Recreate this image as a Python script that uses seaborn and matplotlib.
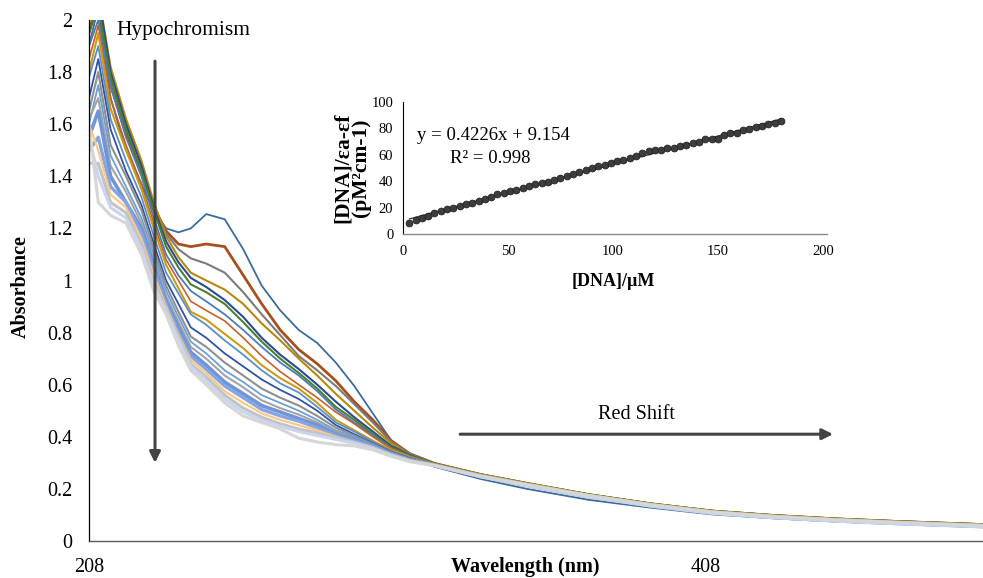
import numpy as np
import pandas as pd
import matplotlib
matplotlib.use("Agg")
import matplotlib.pyplot as plt
from matplotlib.ticker import FuncFormatter
import seaborn as sns

# ---------------- data ----------------
wavelength_nm = [208, 211, 215, 220, 225, 229, 233, 237, 241, 246, 252, 258, 264, 270, 276,
                 282, 288, 294, 300, 306, 312, 320, 335, 350, 370, 390, 410, 430, 450, 470, 498]

abs_s01 = [1.90, 2.05, 1.70, 1.50, 1.37, 1.265, 1.20, 1.185, 1.20, 1.255, 1.235, 1.12, 0.98, 0.885, 0.81,
           0.76, 0.685, 0.595, 0.49, 0.385, 0.335, 0.285, 0.238, 0.200, 0.158, 0.128, 0.102, 0.087, 0.075, 0.066, 0.053]
abs_s02 = [1.95, 2.10, 1.75, 1.56, 1.42, 1.28, 1.19, 1.14, 1.13, 1.14, 1.13, 1.02, 0.91, 0.81, 0.735,
           0.68, 0.615, 0.535, 0.465, 0.385, 0.335, 0.298, 0.255, 0.221, 0.178, 0.143, 0.115, 0.098, 0.085, 0.075, 0.063]
abs_s03 = [2.05, 2.10, 1.78, 1.60, 1.45, 1.29, 1.18, 1.12, 1.085, 1.065, 1.03, 0.955, 0.87, 0.79, 0.71,
           0.655, 0.595, 0.525, 0.455, 0.38, 0.335, 0.298, 0.256, 0.222, 0.179, 0.144, 0.116, 0.099, 0.086, 0.076, 0.064]
abs_s04 = [2.10, 2.10, 1.82, 1.62, 1.46, 1.30, 1.17, 1.09, 1.03, 1.00, 0.965, 0.91, 0.835, 0.77, 0.70,
           0.635, 0.565, 0.50, 0.435, 0.375, 0.33, 0.297, 0.255, 0.221, 0.178, 0.143, 0.115, 0.098, 0.085, 0.075, 0.063]
abs_s05 = [2.00, 2.10, 1.80, 1.60, 1.44, 1.28, 1.15, 1.07, 1.01, 0.975, 0.925, 0.86, 0.78, 0.715, 0.66,
           0.60, 0.535, 0.475, 0.42, 0.365, 0.33, 0.296, 0.253, 0.219, 0.176, 0.141, 0.113, 0.096, 0.083, 0.073, 0.061]
abs_s06 = [1.95, 2.05, 1.78, 1.58, 1.42, 1.27, 1.13, 1.05, 0.985, 0.955, 0.91, 0.84, 0.765, 0.70, 0.645,
           0.585, 0.515, 0.465, 0.41, 0.36, 0.328, 0.297, 0.256, 0.222, 0.179, 0.144, 0.116, 0.099, 0.086, 0.076, 0.064]
abs_s07 = [1.90, 2.00, 1.75, 1.55, 1.40, 1.24, 1.10, 1.02, 0.96, 0.92, 0.87, 0.81, 0.745, 0.685, 0.635,
           0.575, 0.505, 0.455, 0.405, 0.355, 0.325, 0.295, 0.252, 0.218, 0.175, 0.140, 0.112, 0.095, 0.082, 0.072, 0.060]
abs_s08 = [1.85, 1.98, 1.70, 1.52, 1.37, 1.22, 1.08, 1.00, 0.92, 0.885, 0.845, 0.78, 0.71, 0.65, 0.60,
           0.55, 0.495, 0.45, 0.40, 0.355, 0.325, 0.295, 0.254, 0.220, 0.177, 0.142, 0.114, 0.097, 0.084, 0.074, 0.062]
abs_s09 = [1.80, 1.95, 1.66, 1.50, 1.35, 1.20, 1.06, 0.97, 0.88, 0.85, 0.795, 0.74, 0.675, 0.625, 0.585,
           0.53, 0.465, 0.425, 0.385, 0.35, 0.322, 0.296, 0.255, 0.221, 0.178, 0.143, 0.115, 0.098, 0.085, 0.075, 0.063]
abs_s10 = [1.78, 1.90, 1.62, 1.46, 1.32, 1.17, 1.03, 0.95, 0.87, 0.83, 0.77, 0.715, 0.655, 0.605, 0.57,
           0.515, 0.455, 0.42, 0.38, 0.345, 0.32, 0.294, 0.251, 0.217, 0.174, 0.139, 0.111, 0.094, 0.081, 0.071, 0.059]
abs_s11 = [1.70, 1.85, 1.58, 1.42, 1.29, 1.14, 1.00, 0.91, 0.82, 0.78, 0.72, 0.67, 0.62, 0.58, 0.545,
           0.50, 0.445, 0.41, 0.375, 0.342, 0.318, 0.293, 0.250, 0.216, 0.173, 0.138, 0.110, 0.093, 0.080, 0.070, 0.058]
abs_s12 = [1.65, 1.80, 1.52, 1.40, 1.27, 1.12, 0.98, 0.88, 0.785, 0.745, 0.685, 0.635, 0.585, 0.55, 0.52,
           0.48, 0.435, 0.405, 0.372, 0.34, 0.316, 0.294, 0.253, 0.219, 0.176, 0.141, 0.113, 0.096, 0.083, 0.073, 0.061]
abs_s13 = [1.60, 1.75, 1.48, 1.36, 1.24, 1.10, 0.96, 0.86, 0.765, 0.72, 0.655, 0.61, 0.56, 0.53, 0.50,
           0.465, 0.425, 0.40, 0.37, 0.338, 0.315, 0.292, 0.249, 0.215, 0.172, 0.137, 0.109, 0.092, 0.079, 0.069, 0.057]
abs_s14 = [1.62, 1.70, 1.44, 1.34, 1.22, 1.08, 0.94, 0.84, 0.745, 0.70, 0.635, 0.59, 0.54, 0.51, 0.485,
           0.455, 0.42, 0.395, 0.368, 0.336, 0.314, 0.293, 0.252, 0.218, 0.176, 0.141, 0.113, 0.096, 0.083, 0.073, 0.061]
abs_s15 = [1.55, 1.65, 1.40, 1.30, 1.20, 1.06, 0.92, 0.82, 0.725, 0.675, 0.61, 0.565, 0.52, 0.495, 0.47,
           0.445, 0.41, 0.39, 0.365, 0.335, 0.312, 0.291, 0.248, 0.214, 0.171, 0.136, 0.108, 0.091, 0.078, 0.068, 0.056]
abs_s16 = [1.50, 1.55, 1.36, 1.30, 1.18, 1.04, 0.91, 0.80, 0.71, 0.66, 0.595, 0.55, 0.505, 0.48, 0.46,
           0.435, 0.405, 0.385, 0.362, 0.333, 0.31, 0.290, 0.247, 0.213, 0.170, 0.135, 0.107, 0.090, 0.077, 0.067, 0.055]
abs_s17 = [1.60, 1.50, 1.33, 1.28, 1.16, 1.02, 0.90, 0.79, 0.695, 0.645, 0.575, 0.53, 0.49, 0.465, 0.445,
           0.425, 0.40, 0.38, 0.36, 0.332, 0.31, 0.292, 0.250, 0.216, 0.174, 0.139, 0.111, 0.094, 0.081, 0.071, 0.059]
abs_s18 = [1.45, 1.45, 1.30, 1.26, 1.14, 1.00, 0.89, 0.78, 0.68, 0.63, 0.56, 0.51, 0.475, 0.45, 0.43,
           0.415, 0.395, 0.378, 0.358, 0.33, 0.308, 0.291, 0.250, 0.217, 0.175, 0.140, 0.112, 0.095, 0.082, 0.072, 0.060]
abs_s19 = [1.55, 1.40, 1.28, 1.24, 1.12, 0.98, 0.88, 0.77, 0.67, 0.615, 0.545, 0.495, 0.465, 0.44, 0.42,
           0.405, 0.39, 0.375, 0.355, 0.328, 0.306, 0.289, 0.246, 0.212, 0.169, 0.134, 0.106, 0.089, 0.076, 0.066, 0.054]
abs_s20 = [1.60, 1.30, 1.25, 1.22, 1.10, 0.96, 0.87, 0.75, 0.655, 0.60, 0.53, 0.48, 0.455, 0.43, 0.395,
           0.38, 0.37, 0.365, 0.35, 0.325, 0.305, 0.290, 0.249, 0.216, 0.174, 0.139, 0.111, 0.094, 0.081, 0.071, 0.059]

spectra = [abs_s01, abs_s02, abs_s03, abs_s04, abs_s05, abs_s06, abs_s07, abs_s08, abs_s09, abs_s10,
           abs_s11, abs_s12, abs_s13, abs_s14, abs_s15, abs_s16, abs_s17, abs_s18, abs_s19, abs_s20]

series_colors = ['#3A6D9A', '#A84F1E', '#7B7B7B', '#B48A0E', '#2A4B8D', '#4E7D32', '#4A7DB5',
                 '#C4622D', '#C99C17', '#5A8FCB', '#2F52A3', '#8F8F8F', '#6AA0D6', '#A3A3A3',
                 '#7094D8', '#86A5E0', '#F9C987', '#C3C3C3', '#C8D5EC', '#D6D6D6']
series_widths = [1.3, 2.0, 1.5, 1.5, 1.5, 1.5, 1.3, 1.2, 1.5, 1.3, 1.3, 1.5, 1.3, 1.5,
                 2.6, 2.4, 1.6, 2.2, 2.2, 2.2]

x_ticks = [208, 408]
y_ticks = [0, 0.2, 0.4, 0.6, 0.8, 1.0, 1.2, 1.4, 1.6, 1.8, 2.0]

# inset: Wolfe-Shimer plot
dna_uM = [3, 6, 9, 12, 15, 18, 21, 24, 27, 30, 33, 36, 39, 42, 45, 48, 51, 54, 57, 60,
          63, 66, 69, 72, 75, 78, 81, 84, 87, 90, 93, 96, 99, 102, 105, 108, 111, 114, 117, 120,
          123, 126, 129, 132, 135, 138, 141, 144, 147, 150, 153, 156, 159, 162, 165, 168, 171, 174, 177, 180]
dna_ratio = [8.1, 10.3, 12.3, 13.9, 15.6, 17.4, 18.6, 19.9, 21.4, 22.4, 23.7, 24.9, 26.4, 28.2, 30.0,
             30.7, 32.2, 33.5, 34.8, 36.3, 37.5, 38.8, 39.5, 40.8, 42.6, 43.8, 45.3, 47.1, 48.4, 49.6,
             51.4, 51.9, 53.7, 54.9, 55.9, 57.2, 58.7, 61.0, 62.5, 63.7, 63.2, 64.7, 65.2, 66.2, 67.5,
             68.8, 69.3, 71.8, 72.0, 72.0, 74.6, 76.0, 76.3, 78.3, 79.3, 80.6, 81.9, 82.9, 84.1, 85.1]
inset_x_ticks = [0, 50, 100, 150, 200]
inset_y_ticks = [0, 20, 40, 60, 80, 100]

# ---------------- style ----------------
sns.set_theme(style="white")
plt.rcParams['font.family'] = ['Liberation Serif', 'DejaVu Serif']

W, H = 983, 578
fig = plt.figure(figsize=(W / 100, H / 100), dpi=100)
fig.patch.set_facecolor('white')

def fx(px):
    return px / W

def fy(py):
    return 1 - py / H

# ---------------- main axes ----------------
ax = fig.add_axes([fx(89), fy(541), fx(983 - 89), (541 - 20) / H])
ax.set_facecolor('white')

for vals, col, lw in zip(spectra, series_colors, series_widths):
    df = pd.DataFrame({'wavelength': wavelength_nm, 'absorbance': vals})
    sns.lineplot(data=df, x='wavelength', y='absorbance', color=col, lw=lw,
                 ax=ax, legend=False, estimator=None, sort=False)

ax.set_xlim(208, 497.8)
ax.set_ylim(0, 2)
ax.set_xticks(x_ticks)
ax.set_yticks(y_ticks)
ax.yaxis.set_major_formatter(FuncFormatter(lambda v, p: f"{v:g}"))
ax.tick_params(axis='both', length=0, labelsize=14.5, colors='black')
ax.tick_params(axis='y', pad=12)
ax.tick_params(axis='x', pad=12)
for s in ['top', 'right']:
    ax.spines[s].set_visible(False)
ax.spines['left'].set_color('black')
ax.spines['left'].set_linewidth(0.9)
ax.spines['bottom'].set_color('#595959')
ax.spines['bottom'].set_linewidth(1.0)
ax.grid(False)

ax.set_xlabel('Wavelength (nm)', fontsize=14.5, fontweight='bold', color='black')
ax.xaxis.set_label_coords((525 - 89) / (983 - 89), (541 - 567) / 521)
ax.xaxis.label.set_va('center')
ax.set_ylabel('Absorbance', fontsize=14.5, fontweight='bold', color='black')
ax.yaxis.set_label_coords((21 - 89) / (983 - 89), (541 - 287) / 521)
ax.yaxis.label.set_va('center')

# annotations
ax.text(216.8, 1.958, 'Hypochromism', fontsize=15.5, va='center', ha='left', color='black')
ax.annotate('', xy=(229.4, 0.30), xytext=(229.4, 1.842),
            arrowprops=dict(arrowstyle='-|>', color='#444444', lw=2.2,
                            mutation_scale=16, shrinkA=0, shrinkB=0))
ax.text(385.6, 0.485, 'Red Shift', fontsize=14.5, va='center', ha='center', color='black')
ax.annotate('', xy=(449.2, 0.41), xytext=(328.3, 0.41),
            arrowprops=dict(arrowstyle='-|>', color='#444444', lw=2.2,
                            mutation_scale=16, shrinkA=0, shrinkB=0))

# ---------------- inset ----------------
ins = fig.add_axes([fx(403), fy(234), fx(827 - 403), (234 - 101.7) / H])
ins.set_facecolor('none')
sns.regplot(x=dna_uM, y=dna_ratio, scatter=False, ci=None, ax=ins,
            line_kws=dict(color='#3c3c3c', lw=1.0))
sns.scatterplot(x=dna_uM, y=dna_ratio, ax=ins, s=24, color='#3d3d3d',
                edgecolor='#222222', linewidth=0.6, legend=False, zorder=3)
ins.set_xlim(0, 202)
ins.set_ylim(0, 100)
ins.set_xticks(inset_x_ticks)
ins.set_yticks(inset_y_ticks)
ins.tick_params(axis='both', length=0, labelsize=10.5, colors='black')
ins.tick_params(axis='y', pad=7)
ins.tick_params(axis='x', pad=8)
for s in ['top', 'right']:
    ins.spines[s].set_visible(False)
ins.spines['left'].set_color('black')
ins.spines['left'].set_linewidth(0.8)
ins.spines['bottom'].set_color('#8a8a8a')
ins.spines['bottom'].set_linewidth(1.0)
ins.grid(False)

ins.set_xlabel('[DNA]/\u00b5M', fontsize=13, fontweight='bold', color='black')
ins.xaxis.set_label_coords((613 - 403) / (827 - 403), (234 - 282) / 132.3)
ins.xaxis.label.set_va('center')
ins.set_ylabel('[DNA]/\u03b5a-\u03b5f\n(pM\u00b2cm-1)', fontsize=15.5, fontweight='bold',
               color='black', linespacing=0.85)
ins.yaxis.set_label_coords((352 - 403) / (827 - 403), 0.5)
ins.yaxis.label.set_va('center')

ins.text(6.7, 74.8, 'y = 0.4226x + 9.154', fontsize=13.5, va='center', ha='left', color='black')
ins.text(22.4, 57.4, 'R\u00b2 = 0.998', fontsize=13.5, va='center', ha='left', color='black')

fig.savefig('out.png', dpi=100, facecolor='white')
